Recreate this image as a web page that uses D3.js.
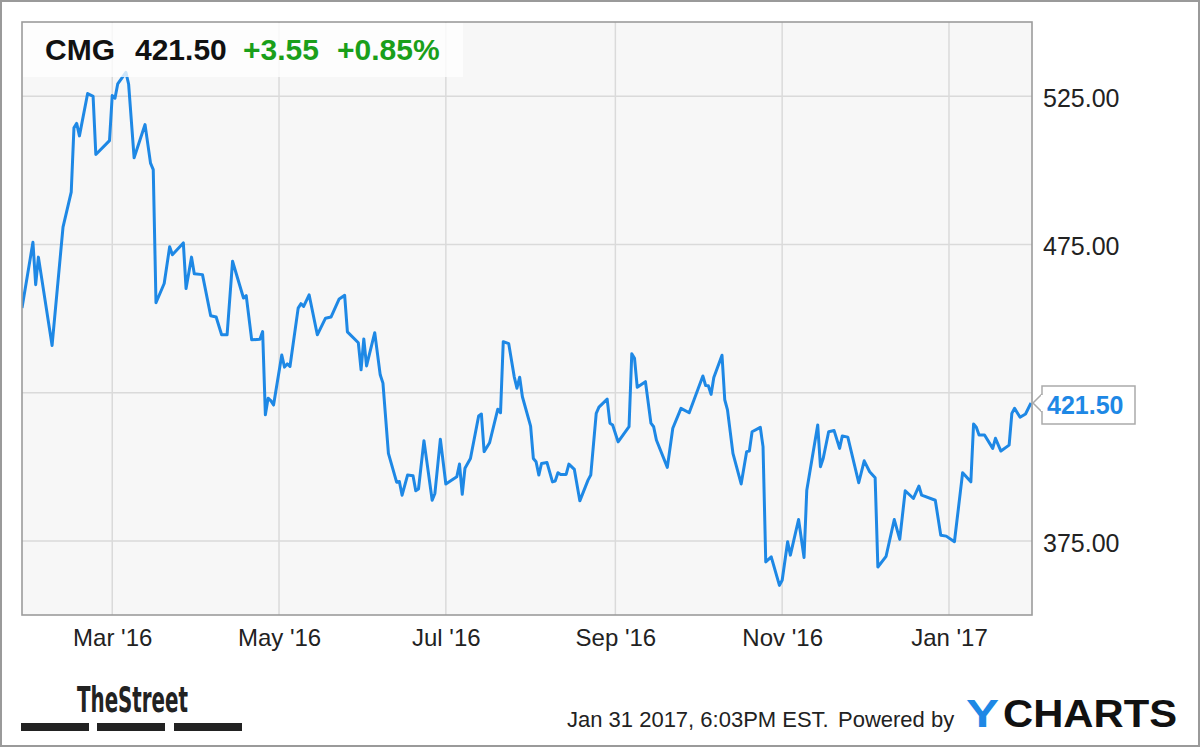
<!DOCTYPE html>
<html>
<head>
<meta charset="utf-8">
<script src="https://cdn.jsdelivr.net/npm/d3@7"></script>
<style>
body { margin: 0; background: #fff; }
svg { display: block; font-family: "Liberation Sans", Arial, sans-serif; }
</style>
</head>
<body>
<svg id="chart"></svg>
<script>
var width = 1200;
var height = 747;

var ticker = "CMG";
var lastPrice = 421.50;
var change = 3.55;
var changePct = 0.85;
var stamp = "Jan 31 2017, 6:03PM EST.";

// closing prices
var dates = [
  "2016-01-28","2016-02-01","2016-02-02","2016-02-03","2016-02-08","2016-02-12","2016-02-15","2016-02-16",
  "2016-02-17","2016-02-18","2016-02-21","2016-02-23","2016-02-24","2016-02-29","2016-03-01","2016-03-02",
  "2016-03-03","2016-03-06","2016-03-07","2016-03-09","2016-03-13","2016-03-15","2016-03-16","2016-03-17",
  "2016-03-20","2016-03-22","2016-03-23","2016-03-27","2016-03-28","2016-03-30","2016-03-31","2016-04-03",
  "2016-04-06","2016-04-08","2016-04-10","2016-04-12","2016-04-14","2016-04-18","2016-04-19","2016-04-21",
  "2016-04-24","2016-04-25","2016-04-26","2016-04-27","2016-04-28","2016-04-29","2016-05-02","2016-05-03",
  "2016-05-04","2016-05-05","2016-05-08","2016-05-09","2016-05-10","2016-05-12","2016-05-15","2016-05-18",
  "2016-05-20","2016-05-23","2016-05-25","2016-05-26","2016-05-30","2016-05-31","2016-06-01","2016-06-02",
  "2016-06-05","2016-06-07","2016-06-08","2016-06-10","2016-06-13","2016-06-14","2016-06-15","2016-06-17",
  "2016-06-19","2016-06-20","2016-06-21","2016-06-23","2016-06-26","2016-06-27","2016-06-29","2016-07-01",
  "2016-07-05","2016-07-06","2016-07-07","2016-07-08","2016-07-10","2016-07-13","2016-07-14","2016-07-15",
  "2016-07-17","2016-07-20","2016-07-21","2016-07-22","2016-07-24","2016-07-26","2016-07-27","2016-07-28",
  "2016-07-29","2016-08-01","2016-08-02","2016-08-03","2016-08-04","2016-08-05","2016-08-07","2016-08-09",
  "2016-08-10","2016-08-11","2016-08-12","2016-08-14","2016-08-15","2016-08-17","2016-08-19","2016-08-22",
  "2016-08-23","2016-08-25","2016-08-26","2016-08-29","2016-08-30","2016-08-31","2016-09-02","2016-09-06",
  "2016-09-07","2016-09-08","2016-09-09","2016-09-12","2016-09-14","2016-09-15","2016-09-16","2016-09-20",
  "2016-09-22","2016-09-25","2016-09-28","2016-10-03","2016-10-04","2016-10-05","2016-10-06","2016-10-07",
  "2016-10-10","2016-10-11","2016-10-12","2016-10-14","2016-10-17","2016-10-19","2016-10-20","2016-10-21",
  "2016-10-24","2016-10-25","2016-10-26","2016-10-28","2016-10-31","2016-11-01","2016-11-03","2016-11-04",
  "2016-11-07","2016-11-09","2016-11-10","2016-11-14","2016-11-15","2016-11-16","2016-11-18","2016-11-20",
  "2016-11-22","2016-11-23","2016-11-25","2016-11-29","2016-12-01","2016-12-03","2016-12-05","2016-12-06",
  "2016-12-09","2016-12-12","2016-12-14","2016-12-16","2016-12-19","2016-12-21","2016-12-22","2016-12-27",
  "2016-12-29","2016-12-31","2017-01-03","2017-01-06","2017-01-09","2017-01-10","2017-01-11","2017-01-12",
  "2017-01-14","2017-01-17","2017-01-18","2017-01-20","2017-01-23","2017-01-24","2017-01-25","2017-01-27",
  "2017-01-29","2017-01-31"
];
var prices = [
  453.5,475.7,461.4,470.7,440.9,480.8,492.6,514.3,
  515.8,511.6,525.9,524.9,505.3,510.0,525.2,524.3,
  529.1,533.0,529.0,504.2,515.4,502.4,500.2,455.3,
  461.8,474.2,471.5,475.5,460.1,470.7,465.1,464.8,
  450.9,450.5,444.5,444.5,469.3,456.9,457.7,442.8,
  443.0,445.6,417.5,423.1,422.3,420.8,437.7,433.6,
  434.7,433.8,453.5,455.0,454.1,458.0,444.5,450.1,
  450.5,456.6,457.8,445.5,441.8,432.7,443.1,434.0,
  445.2,431.0,428.2,404.5,394.8,395.0,390.4,397.2,
  397.0,391.9,392.5,408.8,388.7,391.0,409.3,394.2,
  396.6,400.9,390.7,399.5,402.8,417.1,417.8,405.1,
  408.1,419.4,418.2,442.2,441.5,430.4,426.5,430.2,
  423.6,413.7,402.8,401.7,397.2,401.1,401.4,394.9,
  395.2,398.0,397.4,397.4,400.9,399.1,388.5,395.5,
  397.2,418.0,420.1,422.8,414.7,414.1,408.4,413.5,
  438.1,436.6,426.8,428.7,414.7,413.5,409.0,399.8,
  413.0,419.7,418.2,430.6,427.4,427.3,424.4,430.1,
  437.6,422.6,419.2,404.5,394.2,405.1,405.3,411.8,
  413.3,406.8,367.9,369.6,360.0,361.7,374.7,370.2,
  382.2,369.4,392.1,414.1,400.0,402.8,411.8,412.2,
  406.2,410.4,410.0,394.6,402.0,398.3,396.3,366.2,
  369.8,382.2,375.5,391.9,389.3,393.5,390.4,388.7,
  376.9,376.6,374.7,398.0,394.9,414.4,413.3,410.7,
  410.7,406.2,409.6,405.3,407.3,418.0,419.7,416.7,
  417.8,421.5
];
var yTicks = [375, 425, 475, 525];
var yDomain = [350, 550];
var xDomain = ["2016-01-28", "2017-01-31"];

var parseDate = d3.timeParse("%Y-%m-%d");
var series = dates.map(function (d, i) { return {date: parseDate(d), price: prices[i]}; });

var plot = {left: 22, top: 22, right: 1032, bottom: 615};

var svg = d3.select("#chart")
    .attr("width", width)
    .attr("height", height);

var x = d3.scaleTime().domain(xDomain.map(parseDate)).range([plot.left, 1031]);
var y = d3.scaleLinear().domain(yDomain).range([plot.bottom, plot.top]);

// background + frame
svg.append("rect")
    .attr("x", 1).attr("y", 1)
    .attr("width", width - 2).attr("height", height - 2)
    .attr("fill", "#fff")
    .attr("stroke", "#9a9a9a").attr("stroke-width", 2);

svg.append("rect")
    .attr("x", plot.left).attr("y", plot.top)
    .attr("width", plot.right - plot.left).attr("height", plot.bottom - plot.top)
    .attr("fill", "#f7f7f7");

// grid
let grid = svg.append("g").attr("stroke", "#dadada").attr("stroke-width", 1.5);
grid.selectAll(".vgrid")
    .data(x.ticks(d3.timeMonth.every(2)))
    .join("line")
    .attr("class", "vgrid")
    .attr("x1", d => x(d)).attr("x2", d => x(d))
    .attr("y1", plot.top).attr("y2", plot.bottom);
grid.selectAll(".hgrid")
    .data(yTicks)
    .join("line")
    .attr("class", "hgrid")
    .attr("x1", plot.left).attr("x2", plot.right)
    .attr("y1", d => y(d)).attr("y2", d => y(d));

// price line
svg.append("clipPath").attr("id", "clip")
    .append("rect")
    .attr("x", plot.left).attr("y", plot.top)
    .attr("width", plot.right - plot.left).attr("height", plot.bottom - plot.top);

var line = d3.line()
    .x(d => x(d.date))
    .y(d => y(d.price));

svg.append("path")
    .datum(series)
    .attr("clip-path", "url(#clip)")
    .attr("fill", "none")
    .attr("stroke", "#1e88e5")
    .attr("stroke-width", 3)
    .attr("stroke-linejoin", "round")
    .attr("d", line);

// plot border
svg.append("rect")
    .attr("x", plot.left).attr("y", plot.top)
    .attr("width", plot.right - plot.left).attr("height", plot.bottom - plot.top)
    .attr("fill", "none")
    .attr("stroke", "#9c9c9c").attr("stroke-width", 1.6);

// axes
var xAxis = d3.axisBottom(x)
    .ticks(d3.timeMonth.every(2))
    .tickFormat(d3.timeFormat("%b '%y"))
    .tickSize(0)
    .tickPadding(14);
var gx = svg.append("g")
    .attr("transform", "translate(0," + plot.bottom + ")")
    .call(xAxis);
gx.select(".domain").remove();
gx.selectAll("text")
    .attr("font-size", 24)
    .attr("font-family", "'Liberation Sans', Arial, sans-serif")
    .attr("fill", "#222");

var yAxis = d3.axisRight(y)
    .tickValues(yTicks)
    .tickFormat(d3.format(".2f"))
    .tickSize(0)
    .tickPadding(11);
var gy = svg.append("g")
    .attr("transform", "translate(" + plot.right + ",0)")
    .call(yAxis);
gy.select(".domain").remove();
gy.selectAll("text")
    .attr("dy", "0.42em")
    .attr("font-size", 25)
    .attr("font-family", "'Liberation Sans', Arial, sans-serif")
    .attr("fill", "#222");

// last price flag (sits over the 425.00 tick, as in the original)
var last = series[series.length - 1];
var ly = y(last.price);
let flag = svg.append("g");
flag.append("path")
    .attr("d", "M" + (plot.right + 10) + "," + (ly - 9) +
               " L" + (plot.right + 1) + "," + ly +
               " L" + (plot.right + 10) + "," + (ly + 9))
    .attr("fill", "#fff").attr("stroke", "#aaa").attr("stroke-width", 1.5);
flag.append("rect")
    .attr("x", plot.right + 10).attr("y", ly - 17)
    .attr("width", 93).attr("height", 38)
    .attr("fill", "#fff").attr("stroke", "#aaa").attr("stroke-width", 1.5);
flag.append("rect")
    .attr("x", plot.right + 9).attr("y", ly - 8)
    .attr("width", 3).attr("height", 16)
    .attr("fill", "#fff");
flag.append("text")
    .attr("x", plot.right + 15).attr("y", ly + 11)
    .attr("font-size", 25).attr("font-weight", "bold")
    .attr("fill", "#1e88e5")
    .text(d3.format(".2f")(last.price));

// header
svg.append("rect")
    .attr("x", plot.left + 1).attr("y", plot.top + 1)
    .attr("width", 440).attr("height", 54)
    .attr("fill", "#fff").attr("fill-opacity", 0.78);
let head = svg.append("g")
    .attr("font-size", 30).attr("font-weight", "bold");
head.append("text").attr("x", 45).attr("y", 60).attr("fill", "#111").text(ticker);
head.append("text").attr("x", 135).attr("y", 60).attr("fill", "#111").text(d3.format(".2f")(lastPrice));
head.append("text").attr("x", 243).attr("y", 60).attr("fill", "#1a9f1a").text("+" + d3.format(".2f")(change));
head.append("text").attr("x", 337).attr("y", 60).attr("fill", "#1a9f1a").text("+" + d3.format(".2f")(changePct) + "%");

// footer
svg.append("text")
    .attr("x", 77).attr("y", 712)
    .attr("font-family", "'Liberation Sans Narrow', 'DejaVu Sans Condensed', sans-serif")
    .attr("font-size", 35).attr("font-weight", "bold")
    .attr("fill", "#222")
    .attr("textLength", 111).attr("lengthAdjust", "spacingAndGlyphs")
    .text("TheStreet");
svg.selectAll(".bar")
    .data([[21, 89], [97, 165], [174, 242]])
    .join("rect")
    .attr("class", "bar")
    .attr("x", d => d[0]).attr("y", 723)
    .attr("width", d => d[1] - d[0]).attr("height", 8)
    .attr("fill", "#222");

svg.append("text")
    .attr("x", 567).attr("y", 727)
    .attr("font-size", 22).attr("fill", "#222")
    .text(stamp);
svg.append("text")
    .attr("x", 838).attr("y", 727)
    .attr("font-size", 22).attr("fill", "#222")
    .text("Powered by");
svg.append("text")
    .attr("x", 966).attr("y", 727)
    .attr("font-size", 39).attr("font-weight", "bold")
    .attr("fill", "#1e88e5")
    .attr("textLength", 33).attr("lengthAdjust", "spacingAndGlyphs")
    .text("Y");
svg.append("text")
    .attr("x", 1003).attr("y", 727)
    .attr("font-size", 39).attr("font-weight", "bold")
    .attr("fill", "#111")
    .attr("textLength", 174).attr("lengthAdjust", "spacingAndGlyphs")
    .text("CHARTS");
</script>
</body>
</html>
